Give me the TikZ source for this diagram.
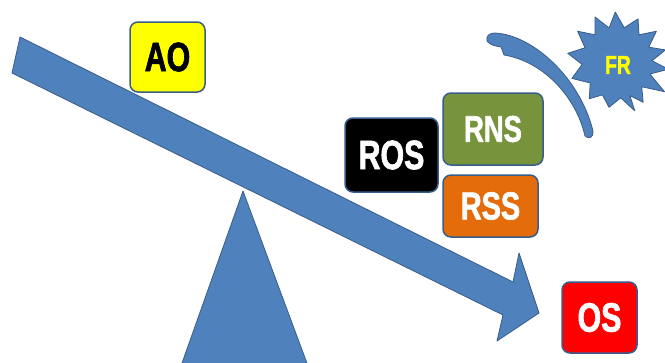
\documentclass[tikz,border=0pt]{standalone}
\usepackage{fontspec}
\setmainfont{Liberation Sans}
\newfontfamily\condfont[FakeStretch=0.74,FakeBold=1.6]{Liberation Sans}
\definecolor{oblue}{HTML}{4F81BD}
\definecolor{oborder}{HTML}{385D8A}
\definecolor{oyellow}{HTML}{FFFF00}
\definecolor{oolive}{HTML}{77933C}
\definecolor{oorange}{HTML}{E46C0A}
\definecolor{ored}{HTML}{FF0000}
\begin{document}
\begin{tikzpicture}[x=1pt,y=-1pt,
  shapefill/.style={fill=oblue, draw=oborder, line width=0.8pt, line join=round},
  tagbox/.style={draw=oborder, line width=1.5pt, rounded corners=8pt, inner sep=0pt,
    text=white, font=\condfont\bfseries\fontsize{41}{41}\selectfont}]
\useasboundingbox (0,0) rectangle (665,362);
\fill[white] (0,0) rectangle (665,362);
\clip (0,0) rectangle (665,362);
% fulcrum
\draw[shapefill] (243,191) -- (308,366) -- (181,366) -- cycle;
% lever arrow
\draw[shapefill] (20,37) -- (513,282) -- (519,253) -- (539,313) -- (497,341) -- (503,315) -- (12,73) -- cycle;
% curved band
\draw[shapefill] (487,41) .. controls (486,36) and (489,33) .. (495,33)
  .. controls (533,35) and (580,78) .. (593,131)
  .. controls (594,137) and (589,140) .. (585,136)
  .. controls (577,100) and (546,62) .. (504,55)
  -- (501,47)
  .. controls (495,46) and (490,45) .. (487,41) -- cycle;
% starburst
\begin{scope}[shift={(617,62)}]
\draw[shapefill] (8:52) -- (20:35) -- (32:56) -- (45:35) -- (57:48) -- (69:36) -- (70:52)
  -- (84:36) -- (100:46) -- (114:36) -- (127:46) -- (142:34) -- (160:48) -- (176:35)
  -- (190:50) -- (204:35) -- (218:50) -- (231:35) -- (244:50) -- (257:35) -- (268:50)
  -- (282:35) -- (296:48) -- (309:35) -- (322:50) -- (335:35) -- (346:50) -- (358:35) -- cycle;
\end{scope}
\node (fr) at (618,65) [text=oyellow, font=\condfont\bfseries\fontsize{26}{26}\selectfont] {FR};
% boxes
\node[tagbox, fill=oyellow, text=black, minimum width=75pt, minimum height=70pt] (ao) at (167.5,57) {AO};
\node[tagbox, fill=black, minimum width=93pt, minimum height=74pt] (ros) at (391.5,155) {ROS};
\node[tagbox, fill=oolive, minimum width=100pt, minimum height=72pt, font=\condfont\bfseries\fontsize{37}{37}\selectfont] (rns) at (493,129) {RNS};
\node[tagbox, fill=oorange, minimum width=95pt, minimum height=62pt, font=\condfont\bfseries\fontsize{39}{39}\selectfont] (rss) at (490.5,206) {RSS};
\node[tagbox, fill=ored, minimum width=75pt, minimum height=71pt] (os) at (599.5,317.5) {OS};
\end{tikzpicture}
\end{document}
